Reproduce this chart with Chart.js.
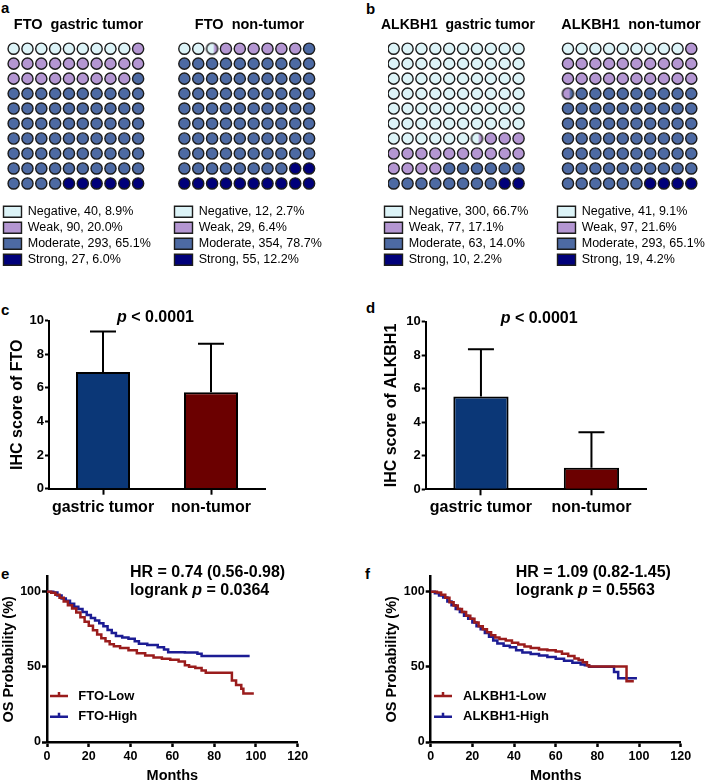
<!DOCTYPE html>
<html>
<head>
<meta charset="utf-8">
<script src="https://cdn.jsdelivr.net/npm/chart.js@4.4.1/dist/chart.umd.min.js"></script>
<style>
  body { margin: 0; background: #fff; }
  #fig { position: relative; width: 708px; height: 783px; overflow: hidden; background: #fff;
         font-family: "Liberation Sans", Arial, sans-serif; }
  #fig canvas { position: absolute; }
  .tag { position: absolute; font-weight: bold; font-size: 15px; line-height: 1; }
</style>
</head>
<body>
<div id="fig">
  <div class="tag" style="left:1px;top:0px">a</div>
  <div class="tag" style="left:366px;top:1px">b</div>
  <div class="tag" style="left:1px;top:302px">c</div>
  <div class="tag" style="left:366px;top:300px">d</div>
  <div class="tag" style="left:1px;top:566px">e</div>
  <div class="tag" style="left:365px;top:566px">f</div>

  <canvas id="wafFtoT" width="157" height="266" style="left:0;top:10px"></canvas>
  <canvas id="wafFtoN" width="157" height="266" style="left:171px;top:10px"></canvas>
  <canvas id="wafAlkT" width="154" height="266" style="left:381px;top:10px"></canvas>
  <canvas id="wafAlkN" width="154" height="266" style="left:554px;top:10px"></canvas>

  <canvas id="barFto" width="354" height="230" style="left:0;top:300px"></canvas>
  <canvas id="barAlk" width="354" height="230" style="left:354px;top:300px"></canvas>

  <canvas id="kmFto" width="354" height="225" style="left:0;top:560px"></canvas>
  <canvas id="kmAlk" width="354" height="225" style="left:354px;top:560px"></canvas>
</div>

<script>
// ---- data ----
const scoreNames = ['Negative', 'Weak', 'Moderate', 'Strong'];
const ftoTumorCounts = [40, 90, 293, 27];
const ftoNormalCounts = [12, 29, 354, 55];
const alkTumorCounts = [300, 77, 63, 10];
const alkNormalCounts = [41, 97, 293, 19];

const barGroups = ['gastric tumor', 'non-tumor'];
const ftoMean = [6.95, 5.74];
const ftoSd = [2.4, 2.89];
const alkMean = [5.53, 1.29];
const alkSd = [2.82, 2.11];
const barTicks = [0, 2, 4, 6, 8, 10];

const kmXTicks = [0, 20, 40, 60, 80, 100, 120];
const kmYTicks = [0, 50, 100];

const ftoLowMonths = [0, 2, 4, 6, 8, 10, 12, 14, 16, 18, 20, 22, 24, 26, 28, 30, 32, 35, 39, 43, 47, 51, 55, 59, 63, 66, 68, 71, 74, 76, 87, 88.5, 90.5, 93, 94, 99];
const ftoLowSurv = [100, 99.3, 98, 96, 93.5, 91, 88.8, 86.2, 83, 80, 77.3, 74.3, 71.5, 69, 67, 65, 63.8, 62.5, 61, 59, 57.6, 56.2, 55.4, 54.8, 53.6, 51, 50, 49.2, 47.5, 46.1, 46.1, 41, 38, 35.5, 32.2, 32.2];
const ftoHighMonths = [0, 3, 5, 7, 9, 11, 13, 15, 17, 19, 21, 23, 25, 27, 29, 31, 33, 36, 39, 42, 44, 48, 53, 56, 58, 66, 72, 74, 97];
const ftoHighSurv = [100, 99.5, 97.5, 95.5, 94, 92, 90, 88.5, 86.5, 84.5, 82.5, 80.8, 79, 77, 74.5, 72.5, 70.5, 69.5, 68.7, 67, 65.4, 64.5, 63.1, 61.5, 59.8, 59.5, 58.7, 57.2, 57.2];

const alkLowMonths = [0, 3, 5, 7, 9, 11, 13, 15, 17, 19, 21, 23, 25, 27, 29, 31, 33, 36, 39, 42, 45, 48, 52, 56, 60, 63, 66, 69, 71, 73, 75, 76, 93.5, 94, 97.5];
const alkLowSurv = [100, 99.5, 98, 96, 93, 90.8, 88.5, 86.5, 84, 82, 79.5, 77, 75, 73, 71, 69.5, 68.5, 67.5, 66, 64.8, 63.6, 62.5, 61.5, 61, 60.2, 58.7, 57.2, 55.5, 54.5, 53, 51, 50.3, 50.3, 40.4, 40.4];
const alkHighMonths = [0, 2, 4, 6, 8, 10, 12, 14, 16, 18, 20, 22, 24, 26, 28, 30, 32, 35, 38, 41, 44, 48, 52, 56, 60, 64, 68, 72, 74, 76, 87.5, 88, 90, 99];
const alkHighSurv = [100, 99, 97.5, 96.2, 93.5, 91, 88.5, 86.5, 84, 82, 79.5, 77, 75, 72.5, 70, 67.5, 65.5, 64, 63, 61, 59.5, 58.5, 57.5, 56.5, 55.4, 54, 52.8, 51.5, 51, 50, 50, 46.5, 42.5, 42.5];

// ---- styles ----
const FONT = '"Liberation Sans", Arial, sans-serif';
const scoreColors = ['#dcf3f7', '#b496d2', '#4d6aa3', '#00007a'];
const dotBorder = '#1c1c1c';
const dotRadius = 5.6;
const barColors = ['#0b3777', '#6b0000'];
const lowColor = '#9a1c1c';
const highColor = '#1c1c94';

Chart.defaults.font.family = FONT;
Chart.defaults.color = '#000';
Chart.defaults.animation = false;
Chart.defaults.events = [];
Chart.defaults.plugins.tooltip.enabled = false;

// circle split between two grades, used as a point image
function halfDot(left, right, frac) {
  const c = document.createElement('canvas');
  c.width = 15; c.height = 15;
  const g = c.getContext('2d');
  g.beginPath();
  g.arc(7.5, 7.5, dotRadius, 0, Math.PI * 2);
  g.save();
  g.clip();
  g.fillStyle = right;
  g.fillRect(0, 0, 15, 15);
  g.fillStyle = left;
  g.fillRect(0, 0, 7.5 - dotRadius + 2 * dotRadius * frac, 15);
  g.restore();
  g.lineWidth = 1.4;
  g.strokeStyle = dotBorder;
  g.stroke();
  return c;
}

function waffle(id, title, counts, xMin, xMax) {
  const total = counts.reduce((a, b) => a + b, 0);
  const bounds = [0];
  counts.forEach(c => bounds.push(bounds[bounds.length - 1] + c / total * 100));

  const full = counts.map(() => []);
  const split = [];
  const splitStyles = [];
  for (let i = 0; i < 100; i++) {
    const pt = { x: i % 10, y: Math.floor(i / 10) };
    const share = counts.map((c, k) => Math.max(0, Math.min(i + 1, bounds[k + 1]) - Math.max(i, bounds[k])));
    const present = share.map((s, k) => k).filter(k => share[k] > 1e-6);
    const top = present.reduce((a, k) => (share[k] > share[a] ? k : a), present[0]);
    if (present.length < 2 || share[top] >= 0.75) {
      full[top].push(pt);
    } else {
      split.push(pt);
      splitStyles.push(halfDot(scoreColors[present[0]], scoreColors[present[1]], share[present[0]]));
    }
  }

  const datasets = scoreNames.map((name, k) => ({
    label: `${name}, ${counts[k]}, ${(counts[k] / total * 100).toFixed(1)}%`,
    data: full[k],
    backgroundColor: scoreColors[k],
    borderColor: dotBorder,
    borderWidth: 1.4,
    pointRadius: dotRadius
  }));
  datasets.push({ label: 'split', data: split, pointStyle: splitStyles, pointRadius: dotRadius });

  new Chart(document.getElementById(id), {
    type: 'scatter',
    data: { datasets },
    options: {
      responsive: false,
      layout: { padding: 0 },
      scales: {
        x: { type: 'linear', min: xMin, max: xMax, display: false },
        y: { type: 'linear', min: -0.5, max: 10.24, reverse: true, display: false }
      },
      plugins: {
        title: {
          display: true, text: title, color: '#000',
          font: { size: 14.5, weight: 'bold' },
          padding: { top: 6, bottom: 7.8 }
        },
        legend: {
          position: 'bottom', align: 'start',
          labels: {
            boxWidth: 18, boxHeight: 11, padding: 3.5, color: '#000',
            font: { size: 12.5 },
            filter: item => item.datasetIndex < scoreNames.length
          }
        }
      }
    }
  });
}

// mixed bold / italic text lines
const notes = {
  id: 'notes',
  afterDraw(chart, args, opts) {
    const ctx = chart.ctx;
    ctx.save();
    ctx.fillStyle = '#000';
    ctx.textBaseline = 'middle';
    (opts.lines || []).forEach(line => {
      let x = line.x;
      line.runs.forEach(([text, italic]) => {
        ctx.font = `${italic ? 'italic ' : ''}bold ${opts.size}px ${FONT}`;
        ctx.fillText(text, x, line.y);
        x += ctx.measureText(text).width;
      });
    });
    ctx.restore();
  }
};

// upper SD whiskers on the bars
const errorBars = {
  id: 'errorBars',
  afterDatasetsDraw(chart, args, opts) {
    const ctx = chart.ctx;
    const y = chart.scales.y;
    const ds = chart.data.datasets[0];
    ctx.save();
    ctx.strokeStyle = '#000';
    ctx.lineWidth = 2;
    chart.getDatasetMeta(0).data.forEach((bar, i) => {
      const top = y.getPixelForValue(ds.data[i] + opts.sd[i]);
      ctx.beginPath();
      ctx.moveTo(bar.x, bar.y);
      ctx.lineTo(bar.x, top);
      ctx.moveTo(bar.x - opts.cap, top);
      ctx.lineTo(bar.x + opts.cap, top);
      ctx.stroke();
    });
    ctx.restore();
  }
};

// legend inside the survival plot
const kmLegend = {
  id: 'kmLegend',
  afterDraw(chart, args, opts) {
    const ctx = chart.ctx;
    ctx.save();
    chart.data.datasets.forEach((ds, i) => {
      const y = opts.y + i * opts.step;
      const mid = opts.x + opts.len / 2;
      ctx.strokeStyle = ds.borderColor;
      ctx.lineWidth = 2.5;
      ctx.beginPath();
      ctx.moveTo(opts.x, y);
      ctx.lineTo(opts.x + opts.len, y);
      ctx.moveTo(mid, y - 4);
      ctx.lineTo(mid, y);
      ctx.stroke();
      ctx.fillStyle = '#000';
      ctx.font = `bold ${opts.size}px ${FONT}`;
      ctx.textBaseline = 'middle';
      ctx.fillText(ds.label, opts.x + opts.len + opts.gap, y);
    });
    ctx.restore();
  }
};

function barChart(id, means, sds, yTitle, pad, zeroY, titleTop, pPos) {
  new Chart(document.getElementById(id), {
    type: 'bar',
    data: {
      labels: barGroups,
      datasets: [{
        data: means,
        backgroundColor: barColors,
        borderColor: '#000',
        borderWidth: 2,
        barPercentage: 0.5,
        categoryPercentage: 1
      }]
    },
    options: {
      responsive: false,
      layout: { padding: pad },
      scales: {
        x: {
          type: 'category', offset: true,
          grid: { offset: false, drawOnChartArea: false, drawTicks: true, tickLength: 6, tickWidth: 2, tickColor: '#000' },
          border: { color: '#000', width: 2 },
          ticks: { font: { size: 16, weight: 'bold' }, padding: 3, color: '#000', maxRotation: 0, minRotation: 0, autoSkip: false },
          afterFit: s => { s.height = 230 - zeroY; }
        },
        y: {
          min: 0, max: 10,
          afterBuildTicks: s => { s.ticks = barTicks.map(v => ({ value: v })); },
          grid: { drawOnChartArea: false, drawTicks: true, tickLength: 4, tickWidth: 2, tickColor: '#000' },
          border: { color: '#000', width: 2 },
          ticks: { font: { size: 13, weight: 'bold' }, padding: 1, color: '#000' },
          title: { display: true, text: yTitle, font: { size: 16, weight: 'bold' }, padding: { top: titleTop, bottom: 0 }, color: '#000' },
          afterFit: s => { s.width = 49; }
        }
      },
      plugins: {
        legend: { display: false },
        errorBars: { sd: sds, cap: 13 },
        notes: { size: 16, lines: [{ x: pPos.x, y: pPos.y, runs: [['p', true], [' < 0.0001', false]] }] }
      }
    },
    plugins: [errorBars, notes]
  });
}

function kmChart(id, curves, stats, pad, legendX) {
  new Chart(document.getElementById(id), {
    type: 'line',
    data: {
      datasets: curves.map(c => ({
        label: c.label,
        data: c.months.map((m, i) => ({ x: m, y: c.surv[i] })),
        borderColor: c.color,
        borderWidth: 2.5,
        stepped: true,
        pointRadius: 0,
        fill: false
      }))
    },
    options: {
      responsive: false,
      layout: { padding: pad },
      scales: {
        x: {
          type: 'linear', min: 0, max: 120,
          afterBuildTicks: s => { s.ticks = kmXTicks.map(v => ({ value: v })); },
          grid: { drawOnChartArea: false, drawTicks: true, tickLength: 5, tickWidth: 2.5, tickColor: '#000' },
          border: { color: '#000', width: 2.5 },
          ticks: { font: { size: 12.5, weight: 'bold' }, padding: 2, color: '#000', maxRotation: 0 },
          title: { display: true, text: 'Months', font: { size: 14.5, weight: 'bold' }, padding: { top: 0, bottom: 0 }, color: '#000' },
          afterFit: s => { s.height = 43; }
        },
        y: {
          type: 'linear', min: 0, max: 110,
          afterBuildTicks: s => { s.ticks = kmYTicks.map(v => ({ value: v })); },
          grid: { drawOnChartArea: false, drawTicks: true, tickLength: 5, tickWidth: 2.5, tickColor: '#000' },
          border: { color: '#000', width: 2.5 },
          ticks: { font: { size: 12.5, weight: 'bold' }, padding: 1, color: '#000' },
          title: { display: true, text: 'OS Probability (%)', font: { size: 14.5, weight: 'bold' }, padding: { top: 0, bottom: 0 }, color: '#000' },
          afterFit: s => { s.width = 47; }
        }
      },
      plugins: {
        legend: { display: false },
        kmLegend: { x: legendX.line, y: 136, step: 20.7, len: 18, gap: legendX.gap, size: 13 },
        notes: {
          size: 16,
          lines: [
            { x: stats.x, y: 12.7, runs: [[stats.hr, false]] },
            { x: stats.x, y: 31, runs: [['logrank ', false], ['p', true], [' = ' + stats.p, false]] }
          ]
        }
      }
    },
    plugins: [kmLegend, notes]
  });
}

waffle('wafFtoT', 'FTO  gastric tumor', ftoTumorCounts, -0.48, 9.86);
waffle('wafFtoN', 'FTO  non-tumor', ftoNormalCounts, -0.46, 9.86);
waffle('wafAlkT', 'ALKBH1  gastric tumor', alkTumorCounts, -0.41, 9.68);
waffle('wafAlkN', 'ALKBH1  non-tumor', alkNormalCounts, -0.51, 9.71);

barChart('barFto', ftoMean, ftoSd, 'IHC score of FTO', { top: 20.7, right: 89, left: 0, bottom: 0 }, 188.7, 8, { x: 117, y: 18 });
barChart('barAlk', alkMean, alkSd, 'IHC score of ALKBH1', { top: 21.7, right: 61.3, left: 22.7, bottom: 0 }, 189.3, 5.2, { x: 146.7, y: 19 });

kmChart('kmFto', [
  { label: 'FTO-Low', months: ftoLowMonths, surv: ftoLowSurv, color: lowColor },
  { label: 'FTO-High', months: ftoHighMonths, surv: ftoHighSurv, color: highColor }
], { x: 130, hr: 'HR = 0.74 (0.56-0.98)', p: '0.0364' }, { top: 16.7, right: 56.3, left: 0, bottom: 0 }, { line: 50, gap: 10.3 });

kmChart('kmAlk', [
  { label: 'ALKBH1-Low', months: alkLowMonths, surv: alkLowSurv, color: lowColor },
  { label: 'ALKBH1-High', months: alkHighMonths, surv: alkHighSurv, color: highColor }
], { x: 161.7, hr: 'HR = 1.09 (0.82-1.45)', p: '0.5563' }, { top: 16.7, right: 27.3, left: 29.7, bottom: 0 }, { line: 80, gap: 11 });
</script>
</body>
</html>
